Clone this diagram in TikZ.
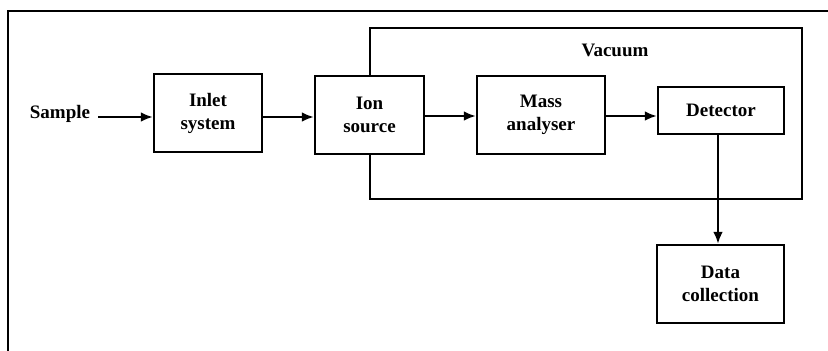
\documentclass[tikz,border=0pt]{standalone}
\usepackage{fontspec}
\setmainfont{Liberation Serif}
\usetikzlibrary{arrows.meta}
\begin{document}
\begin{tikzpicture}[x=1pt,y=-1pt,
  line width=2.5pt,
  blockbox/.style={draw,fill=white,align=center,inner sep=0pt,
    font=\bfseries\fontsize{19}{23}\selectfont},
  lbl/.style={font=\bfseries\fontsize{19}{23}\selectfont,inner sep=0pt},
  flow/.style={-{Latex[length=12pt,width=10pt]}}]
\useasboundingbox (0,0) rectangle (828,351);
% open outer frame
\draw (828,11) -- (8,11) -- (8,351);
% vacuum enclosure
\draw (370,28) rectangle (802,199);
\node[lbl] (vac) at (615,50) {Vacuum};
% blocks
\node[blockbox,minimum width=108pt,minimum height=78pt] (inlet) at (208,113) {Inlet\\system};
\node[blockbox,minimum width=109pt,minimum height=78pt] (ion) at (369.5,115) {Ion\\source};
\node[blockbox,minimum width=128pt,minimum height=78pt] (mass) at (541,115) {Mass\\analyser};
\node[blockbox,minimum width=126pt,minimum height=47pt] (det) at (721,110.5) {Detector};
\node[blockbox,minimum width=127pt,minimum height=78pt] (data) at (720.5,284) {Data\\collection};
\node[lbl] (sample) at (60,114) {Sample};
% connectors
\draw[flow] ([xshift=7pt]sample.east |- 0,117) -- (inlet.west |- 0,117);
\draw[flow] (inlet.east |- 0,117) -- (ion.west |- 0,117);
\draw[flow] (ion.east |- 0,116) -- (mass.west |- 0,116);
\draw[flow] (mass.east |- 0,116) -- (det.west |- 0,116);
\draw[flow] (det.south -| 718,0) -- (data.north -| 718,0);
\end{tikzpicture}
\end{document}
